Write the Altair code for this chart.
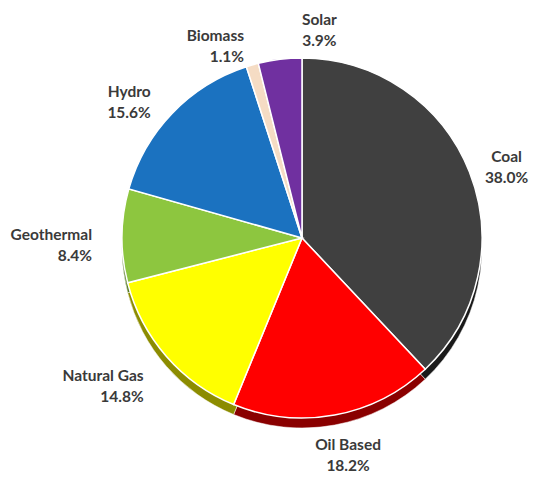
import altair as alt
import pandas as pd

categories = ["Coal", "Oil Based", "Natural Gas", "Geothermal", "Hydro", "Biomass", "Solar"]
shares = [38.0, 18.2, 14.8, 8.4, 15.6, 1.1, 3.9]
colors = ["#404040", "#FF0000", "#FFFF00", "#8DC63F", "#1B72C0", "#F5DCC4", "#7030A0"]
rim_colors = ["#1A1A1A", "#8A0000", "#8C8C00", "#557A22", "#0F4A80", "#B8A48C", "#43196A"]

df = pd.DataFrame({
    "idx": list(range(len(categories))),
    "cat": categories,
    "val": shares,
    "label": [f"{c}\n{v:.1f}%" for c, v in zip(categories, shares)],
})

CX, CY = 294, 230
R = 180

base = alt.Chart(df)

theta = alt.Theta("val:Q", stack=True)
order = alt.Order("idx:Q")

rim = base.mark_arc(radius=R, stroke="white", strokeWidth=0.5).encode(
    theta=theta, order=order,
    color=alt.Color("cat:N", scale=alt.Scale(domain=categories, range=rim_colors), legend=None),
    x=alt.value(CX), y=alt.value(CY + 10),
)

face = base.mark_arc(radius=R, stroke="white", strokeWidth=1.5).encode(
    theta=theta, order=order,
    fill=alt.Fill("cat:N", scale=alt.Scale(domain=categories, range=colors), legend=None),
    x=alt.value(CX), y=alt.value(CY),
)

lab = base.transform_window(
    cum="sum(val)", sort=[alt.SortField("idx")], frame=[None, 0]
).transform_calculate(mid="datum.cum - datum.val/2")

theta_lab = alt.Theta("mid:Q", scale=alt.Scale(domain=[0, 100], range=[0, 6.283185]))

text_style = dict(font="Lato", fontSize=15.5, fontWeight="bold", color="#3A3A3A",
                  lineBreak="\n", lineHeight=21, baseline="middle")

left_labels = lab.transform_filter("datum.mid > 55 && datum.mid < 97").mark_text(
    radius=210, align="right", **text_style
).encode(theta=theta_lab, text="label:N", x=alt.value(CX), y=alt.value(CY))

side_labels = lab.transform_filter("datum.mid <= 30").mark_text(
    radius=220, align="center", **text_style
).encode(theta=theta_lab, text="label:N", x=alt.value(CX), y=alt.value(CY))

bottom_labels = lab.transform_filter("datum.mid > 30 && datum.mid <= 55").mark_text(
    radius=210, align="center", dx=8, **text_style
).encode(theta=theta_lab, text="label:N", x=alt.value(CX), y=alt.value(CY))

top_labels = lab.transform_filter("datum.mid >= 97").mark_text(
    radius=218, align="center", dx=44, dy=-2, **text_style
).encode(theta=theta_lab, text="label:N", x=alt.value(CX), y=alt.value(CY))

chart = alt.layer(rim, face, left_labels, side_labels, bottom_labels, top_labels).properties(
    width=523, height=468, padding=0
).resolve_scale(color="independent", fill="independent").configure_view(stroke=None)

chart.save("out.html", embed_options={"renderer": "svg", "actions": False})
